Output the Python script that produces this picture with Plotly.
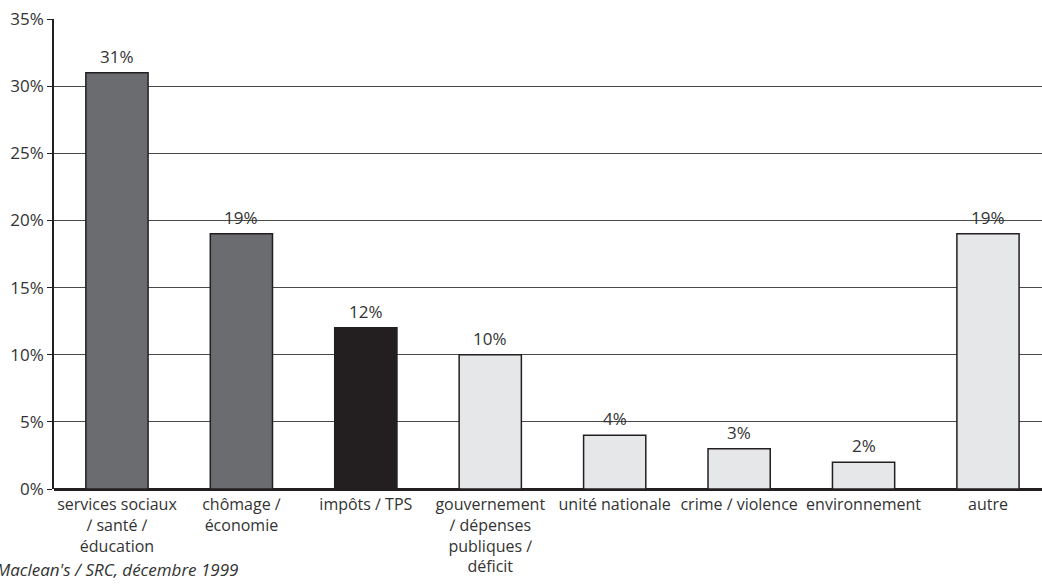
import plotly.graph_objects as go

categories = ["services sociaux<br>∕ santé ∕<br>éducation", "chômage ∕<br>économie", "impôts ∕ TPS",
              "gouvernement<br>∕ dépenses<br>publiques ∕<br>déficit", "unité nationale",
              "crime ∕ violence", "environnement", "autre"]
values = [31, 19, 12, 10, 4, 3, 2, 19]
colors = ["#6b6c70", "#6b6c70", "#231f20", "#e6e7e8", "#e6e7e8", "#e6e7e8", "#e6e7e8", "#e6e7e8"]
labels = [f"{v}%" for v in values]
yticks = [0, 5, 10, 15, 20, 25, 30, 35]
yticklabels = [f"{v}%" for v in yticks]

font = "Open Sans"
txtcol = "#333333"

fig = go.Figure()
fig.add_trace(go.Bar(
    x=list(range(len(categories))), y=values,
    marker=dict(color=colors, line=dict(color="#231f20", width=1.5)),
    width=0.5, hoverinfo="skip",
))
for i, (v, t) in enumerate(zip(values, labels)):
    fig.add_annotation(x=i, y=v, text=t, showarrow=False, yanchor="bottom", yshift=3,
                       font=dict(family=font, size=17, color=txtcol))

fig.add_annotation(xref="paper", yref="paper", x=(240 - 54) / 988, y=(489 - 569) / 470,
                   xanchor="right", yanchor="middle",
                   text="<i>Source : Maclean's ∕ SRC, décembre 1999</i>", showarrow=False,
                   font=dict(family=font, size=17, color=txtcol))

fig.update_layout(
    width=1042, height=584,
    margin=dict(l=54, r=0, t=19, b=95),
    paper_bgcolor="white", plot_bgcolor="white",
    showlegend=False,
    font=dict(family=font, size=16, color=txtcol),
    xaxis=dict(range=[-0.506, 7.434], tickvals=list(range(len(categories))), ticktext=categories,
               showgrid=False, showline=False, ticks="", zeroline=False, fixedrange=True,
               tickfont=dict(size=16), ticklabelstandoff=4),
    yaxis=dict(range=[0, 35], tickvals=yticks, ticktext=yticklabels, showgrid=True,
               gridcolor="#4a4a4a", gridwidth=1, showline=True, linecolor="#231f20", linewidth=1.5,
               ticks="outside", ticklen=5, tickcolor="#231f20", zeroline=True, zerolinecolor="#231f20",
               zerolinewidth=2.5, fixedrange=True, tickfont=dict(size=17)),
)
fig.write_html("out.html")
